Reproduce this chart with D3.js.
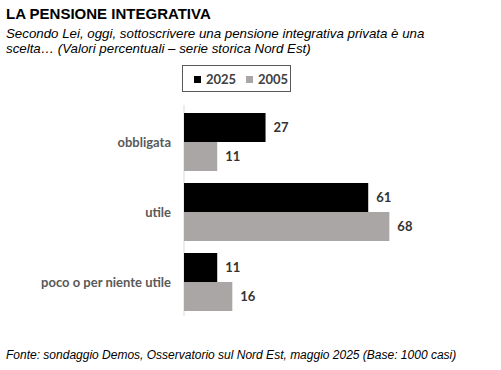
<!DOCTYPE html>
<html>
<head>
<meta charset="utf-8">
<script src="https://cdn.jsdelivr.net/npm/d3@7"></script>
<style>
  body { margin: 0; background: #fff; }
  svg { display: block; }
</style>
</head>
<body>
<svg id="svg"></svg>
<script>
const width = 501, height = 370;

const categories = ["obbligata", "utile", "poco o per niente utile"];
const seriesNames = ["2025", "2005"];
const values2025 = [27, 61, 11];
const values2005 = [11, 68, 16];
const colors = ["#000000", "#aaa6a5"];

const svg = d3.select("#svg").attr("width", width).attr("height", height);

// titles
svg.append("text").attr("x", 6).attr("y", 19)
    .style("font", "bold 15px 'Liberation Sans', Arial, sans-serif")
    .text("LA PENSIONE INTEGRATIVA");

const sub = ["Secondo Lei, oggi, sottoscrivere una pensione integrativa privata è una",
    "scelta… (Valori percentuali – serie storica Nord Est)"];
svg.selectAll(".sub").data(sub).enter().append("text")
    .attr("x", 6).attr("y", (d, i) => 38 + i * 15)
    .style("font", "italic 13.3px 'Liberation Sans', Arial, sans-serif")
    .text(d => d);

svg.append("text").attr("x", 6).attr("y", 359)
    .style("font", "italic 12px 'Liberation Sans', Arial, sans-serif")
    .text("Fonte: sondaggio Demos, Osservatorio sul Nord Est, maggio 2025 (Base: 1000 casi)");

// scales
const x = d3.scaleLinear().domain([0, 100]).range([184, 486]);
const y = d3.scaleBand().domain(categories).range([107, 317]).paddingInner(12 / 70).paddingOuter(6 / 70);
const ySub = d3.scaleBand().domain(seriesNames).range([0, y.bandwidth()]);

const data = categories.map((c, i) => ({ cat: c, vals: [values2025[i], values2005[i]] }));

// axis line
svg.append("line")
    .attr("x1", x(0)).attr("x2", x(0))
    .attr("y1", 105).attr("y2", 316)
    .style("stroke", "#d9d9d9").style("stroke-width", 1);

const g = svg.selectAll(".grp").data(data).enter().append("g")
    .attr("transform", d => `translate(0,${y(d.cat)})`);

g.selectAll("rect").data(d => d.vals).enter().append("rect")
    .attr("x", x(0))
    .attr("y", (v, i) => ySub(seriesNames[i]))
    .attr("width", v => x(v) - x(0))
    .attr("height", ySub.bandwidth())
    .style("fill", (v, i) => colors[i]);

g.selectAll(".val").data(d => d.vals).enter().append("text")
    .attr("x", v => x(v) + 8)
    .attr("y", (v, i) => ySub(seriesNames[i]) + ySub.bandwidth() / 2 + 4.5)
    .style("font", "bold 13px Lato, 'Open Sans', sans-serif")
    .style("fill", "#333333")
    .text(v => v);

g.append("text")
    .attr("x", 171).attr("y", y.bandwidth() / 2 + 4.5)
    .attr("text-anchor", "end")
    .style("font", "bold 13px Lato, 'Open Sans', sans-serif")
    .style("fill", "#595959")
    .text(d => d.cat);

// legend
const legend = svg.append("g");
legend.append("rect").attr("x", 182.5).attr("y", 65.5).attr("width", 108).attr("height", 26)
    .style("fill", "none").style("stroke", "#595959").style("stroke-width", 1);
const legendX = [194, 246];
seriesNames.forEach((s, i) => {
    legend.append("rect").attr("x", legendX[i]).attr("y", 76).attr("width", 7).attr("height", 7)
        .style("fill", colors[i]);
    legend.append("text").attr("x", legendX[i] + 12).attr("y", 84)
        .style("font", "bold 13px Lato, 'Open Sans', sans-serif")
        .style("fill", "#404040")
        .text(s);
});
</script>
</body>
</html>
